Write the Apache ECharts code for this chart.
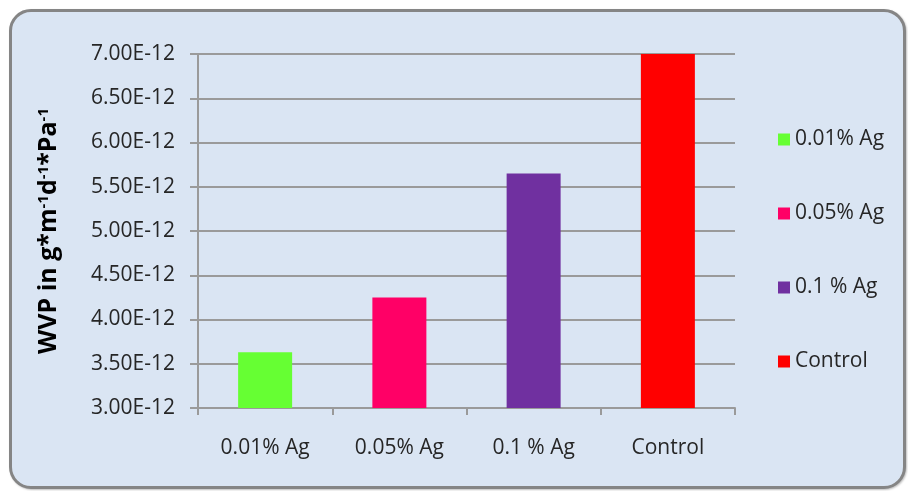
<!DOCTYPE html>
<html>
<head>
<meta charset="utf-8">
<script src="https://cdn.jsdelivr.net/npm/echarts@6/dist/echarts.min.js"></script>
<style>
  html, body { margin: 0; padding: 0; background: #ffffff; }
  #frame {
    position: absolute; left: 9px; top: 9px; width: 891px; height: 474px;
    border: 3px solid #858585; border-radius: 22px;
    background: #dae5f3; box-shadow: 1px 1px 2px rgba(0,0,0,0.25);
  }
  #chart { position: absolute; left: 0; top: 0; width: 908px; height: 491px; }
</style>
</head>
<body>
<div id="frame"></div>
<div id="chart"></div>
<script>
// Water vapour permeability, in units of 1E-12 g*m^-1*d^-1*Pa^-1
const categories = ['0.01% Ag', '0.05% Ag', '0.1 % Ag', 'Control'];
const wvp = [3.63, 4.25, 5.65, 7.00];
const barColors = ['#66ff33', '#ff0066', '#7030a0', '#ff0000'];
const yTicks = { min: 3.0, max: 7.0, step: 0.5 };

const chart = echarts.init(document.getElementById('chart'), null, { renderer: 'canvas' });

// one series per category so each gets its own legend entry; stacked keeps bars centred
const series = categories.map((name, i) => ({
  name,
  type: 'bar',
  stack: 'wvp',
  barWidth: 54,
  itemStyle: { color: barColors[i] },
  data: categories.map((_, j) => (j === i ? wvp[i] : '-'))
}));

const font = 'Open Sans, sans-serif';

chart.setOption({
  backgroundColor: 'transparent',
  animation: false,
  textStyle: { fontFamily: font },
  grid: { left: 198, right: 173, top: 54, bottom: 83, containLabel: false },
  legend: {
    orient: 'vertical',
    left: 773,
    top: 124,
    itemWidth: 12,
    itemHeight: 12,
    itemGap: 53,
    icon: 'rect',
    textStyle: { fontSize: 21, color: '#262626', fontFamily: font },
    data: categories
  },
  xAxis: {
    type: 'category',
    data: categories,
    axisLine: { lineStyle: { color: '#9a9a9a', width: 2 } },
    axisTick: { show: true, length: 7, interval: 0, lineStyle: { color: '#9a9a9a', width: 2 } },
    axisLabel: { fontSize: 21, color: '#262626', margin: 30, fontFamily: font }
  },
  yAxis: {
    type: 'value',
    min: yTicks.min,
    max: yTicks.max,
    interval: yTicks.step,
    name: '{b|WVP in g*m}{s|-1}{b|d}{s|-1}{b|*Pa}{s|-1}',
    nameLocation: 'middle',
    nameRotate: 90,
    nameGap: 137,
    nameTextStyle: {
      rich: {
        b: { fontSize: 25, fontWeight: 'bold', color: '#000', fontFamily: font },
        s: { fontSize: 15, fontWeight: 'bold', color: '#000', fontFamily: font, verticalAlign: 'top', padding: [0, 0, 10, 0] }
      }
    },
    axisLine: { show: true, lineStyle: { color: '#9a9a9a', width: 2 } },
    axisTick: { show: true, length: 8, lineStyle: { color: '#9a9a9a', width: 2 } },
    splitLine: { lineStyle: { color: '#9a9a9a', width: 2 } },
    axisLabel: {
      fontSize: 21, color: '#262626', margin: 23, fontFamily: font,
      formatter: v => v.toFixed(2) + 'E-12'
    }
  },
  series
});
</script>
</body>
</html>
